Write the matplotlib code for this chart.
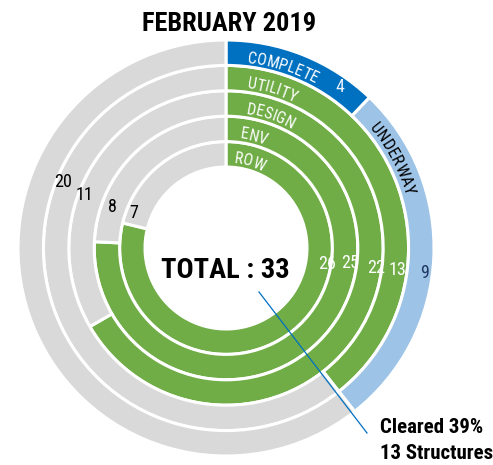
import numpy as np
import matplotlib
matplotlib.use('Agg')
from matplotlib import pyplot as plt
from matplotlib.font_manager import FontProperties
from matplotlib.textpath import TextToPath

# data
stages = ['ROW', 'ENV', 'DESIGN', 'UTILITY']
cleared = [26, 25, 22, 13]
remaining = [7, 8, 11, 20]
status = ['COMPLETE', 'UNDERWAY']
status_counts = [4, 9]
not_started = 20
total = 33
title = 'FEBRUARY 2019'

FONT = ['Roboto Condensed', 'Archivo Narrow', 'DejaVu Sans']
plt.rcParams['font.family'] = FONT

GREEN = '#70AD47'
GRAY = '#D9D9D9'
DARK_BLUE = '#0070C0'
LIGHT_BLUE = '#9DC3E6'

W, H = 493, 465
DPI = 100
cx, cy = 226, H - 248
r_in = 81
ring_w = 25.4

fig = plt.figure(figsize=(W / DPI, H / DPI), dpi=DPI)
ax = fig.add_axes([0, 0, 1, 1])

wp = dict(width=ring_w, edgecolor='white', linewidth=2.2)
for i in range(len(stages)):
    ax.pie([cleared[i], remaining[i]], colors=[GREEN, GRAY],
           radius=r_in + ring_w * (i + 1), center=(cx, cy),
           startangle=90, counterclock=False, wedgeprops=wp)
ax.pie(status_counts + [not_started], colors=[DARK_BLUE, LIGHT_BLUE, GRAY],
       radius=r_in + ring_w * 5, center=(cx, cy),
       startangle=90, counterclock=False, wedgeprops=wp)

ax.set_xlim(0, W)
ax.set_ylim(0, H)
ax.set_aspect('equal')
ax.axis('off')

ttp = TextToPath()


def polar(ang, r):
    t = np.radians(ang)
    return cx + r * np.sin(t), cy + r * np.cos(t)


def arc_text(s, r, start, size=11.5, color='white'):
    fp = FontProperties(family=FONT, size=size)
    pos = 0.0
    for ch in s:
        w = ttp.get_text_width_height_descent(ch, fp, ismath=False)[0] * DPI / 72
        ang = start + np.degrees((pos + w / 2) / r)
        x, y = polar(ang, r)
        ax.text(x, y, ch, rotation=-ang, rotation_mode='anchor',
                ha='center', va='baseline', fontsize=size, color=color)
        pos += w


# ring names
ring_names = stages + [status[0]]
name_start = [5, 7, 8.5, 7.5, 6.5]
for i, name in enumerate(ring_names):
    arc_text(name, r_in + ring_w * i + 4, name_start[i])
arc_text(status[1], r_in + ring_w * 4 + 4, 50, size=12, color='black')

# value labels
green_pos = [(99, 102), (97, 125), (97.5, 151), (97.3, 173)]
gray_pos = [(291, 99), (290, 121), (290.6, 151), (292, 176)]
for i in range(len(stages)):
    x, y = polar(*green_pos[i])
    ax.text(x, y, str(cleared[i]), ha='center', va='center',
            fontsize=13, color='white')
    x, y = polar(*gray_pos[i])
    ax.text(x, y, str(remaining[i]), ha='center', va='center',
            fontsize=13, color='black')
x, y = polar(35.3, 197)
ax.text(x, y, str(status_counts[0]), ha='center', va='center',
        fontsize=13, color='#E8F0F8')
x, y = polar(97.2, 200.6)
ax.text(x, y, str(status_counts[1]), ha='center', va='center',
        fontsize=13, color='#1F3864')

ax.text(229, H - 31, title, ha='center', va='baseline',
        fontsize=19, fontweight='bold')
ax.text(225, H - 278, 'TOTAL : %d' % total, ha='center', va='baseline',
        fontsize=20.5, fontweight='bold')

done = sum(status_counts)
ax.plot([259, 367], [H - 292, H - 433], color=DARK_BLUE, linewidth=0.9)
ax.text(380, H - 433, 'Cleared %d%%' % round(100 * done / total),
        ha='left', va='baseline', fontsize=15, fontweight='bold')
ax.text(380, H - 459, '%d Structures' % done,
        ha='left', va='baseline', fontsize=15, fontweight='bold')

plt.savefig('out.png', dpi=DPI)
